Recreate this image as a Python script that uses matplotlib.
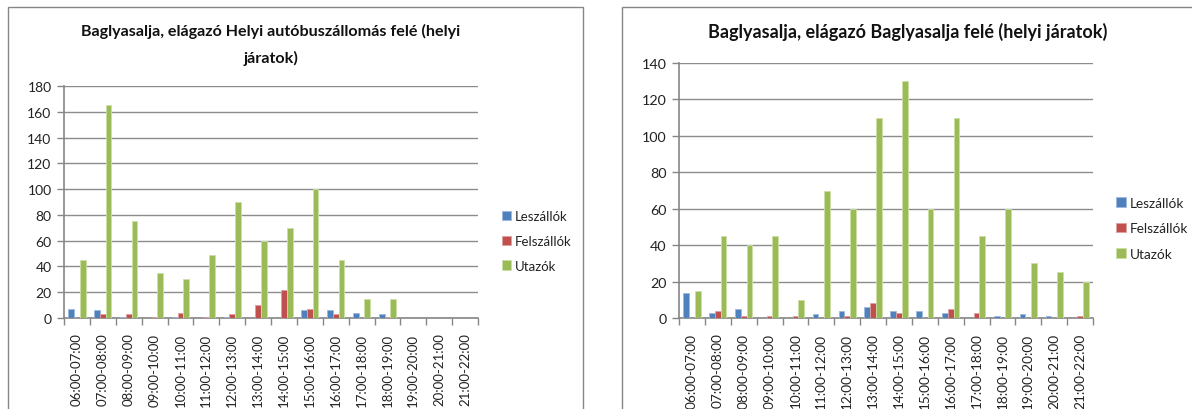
import matplotlib
matplotlib.use("Agg")
import matplotlib.pyplot as plt
import numpy as np
from matplotlib.patches import Rectangle

plt.rcParams['font.family'] = ['Lato', 'DejaVu Sans']

categories = ["06:00-07:00", "07:00-08:00", "08:00-09:00", "09:00-10:00",
              "10:00-11:00", "11:00-12:00", "12:00-13:00", "13:00-14:00",
              "14:00-15:00", "15:00-16:00", "16:00-17:00", "17:00-18:00",
              "18:00-19:00", "19:00-20:00", "20:00-21:00", "21:00-22:00"]
series_names = ["Leszállók", "Felszállók", "Utazók"]

title_left = "Baglyasalja, elágazó Helyi autóbuszállomás felé (helyi\njáratok)"
left_leszallok = [7, 6, 1, 0, 1, 0, 1, 0, 0, 6, 6, 4, 3, 0, 0, 0]
left_felszallok = [0, 3, 3, 1, 4, 1, 3, 10, 22, 7, 3, 0, 1, 0, 0, 0]
left_utazok = [45, 165, 75, 35, 30, 49, 90, 60, 70, 100, 45, 15, 15, 0, 0, 0]
left_yticks = [0, 20, 40, 60, 80, 100, 120, 140, 160, 180]

title_right = "Baglyasalja, elágazó Baglyasalja felé (helyi járatok)"
right_leszallok = [14, 3, 5, 0, 0, 2, 4, 6, 4, 4, 3, 0, 1, 2, 1, 0]
right_felszallok = [0, 4, 1, 1, 1, 0, 1, 8, 3, 0, 5, 3, 0, 0, 0, 1]
right_utazok = [15, 45, 40, 45, 10, 70, 60, 110, 130, 60, 110, 45, 60, 30, 25, 20]
right_yticks = [0, 20, 40, 60, 80, 100, 120, 140]

colors = ["#4F81BD", "#C0504D", "#9BBB59"]
edge_colors = ["#9DB9DD", "#E0A09E", "#CBE0A4"]

W, H = 1192, 410
fig = plt.figure(figsize=(W / 100, H / 100), dpi=100)
fig.patch.set_facecolor("white")

def px_axes(x0, y_top, x1, y_bot):
    return fig.add_axes([x0 / W, (H - y_bot) / H, (x1 - x0) / W, (y_bot - y_top) / H])

def draw_chart(ax, data, yticks, legend_xy, legend_gap, fs):
    x = np.arange(len(categories))
    bw = 1 / 4.5
    offs = [-bw, 0, bw]
    handles = []
    for vals, c, ec, off, name in zip(data, colors, edge_colors, offs, series_names):
        b = ax.bar(x + off, vals, width=bw, color=c, edgecolor=ec, linewidth=0.6,
                   label=name, zorder=3)
        handles.append(b)
    ax.set_xlim(-0.5, len(categories) - 0.5)
    ax.set_ylim(0, yticks[-1])
    ax.set_yticks(yticks)
    ax.set_xticks(x)
    ax.set_xticklabels(categories, rotation=90, fontsize=fs, color="#222222")
    ax.set_xticks(np.arange(len(categories) + 1) - 0.5, minor=True)
    ax.tick_params(axis="x", which="major", length=0, pad=10.5)
    ax.tick_params(axis="x", which="minor", length=5, color="#868686", width=1)
    ax.tick_params(axis="y", length=5, color="#868686", width=1, labelsize=fs + 0.5,
                   labelcolor="#222222", pad=4)
    ax.grid(axis="y", color="#8C8C8C", linewidth=1, zorder=0)
    ax.set_axisbelow(True)
    for s in ["top", "right"]:
        ax.spines[s].set_visible(False)
    for s in ["left", "bottom"]:
        ax.spines[s].set_color("#868686")
        ax.spines[s].set_linewidth(1.2)
    leg = fig.legend(handles=handles, loc="upper left",
                     bbox_to_anchor=(legend_xy[0] / W, 1 - legend_xy[1] / H),
                     frameon=False, fontsize=fs, handlelength=0.7, handleheight=0.7,
                     handletextpad=0.3, labelspacing=legend_gap, borderpad=0,
                     borderaxespad=0)
    for t in leg.get_texts():
        t.set_color("#222222")

# chart frames
fig.add_artist(Rectangle((8 / W, -0.05), (583 - 8) / W, 1.05 - 8 / H,
                         transform=fig.transFigure, fill=False, edgecolor="#868686",
                         linewidth=1))
fig.add_artist(Rectangle((622 / W, -0.05), (1250 - 622) / W, 1.05 - 8 / H,
                         transform=fig.transFigure, fill=False, edgecolor="#868686",
                         linewidth=1))

axL = px_axes(64, 87, 478, 319)
draw_chart(axL, [left_leszallok, left_felszallok, left_utazok], left_yticks,
           (502, 211), 0.97, 9.5)
fig.text(271 / W, 1 - 24 / H, title_left, ha="center", va="top", fontsize=11.6,
         fontweight="bold", linespacing=1.95, color="#111111")

axR = px_axes(679, 64, 1093, 319)
draw_chart(axR, [right_leszallok, right_felszallok, right_utazok], right_yticks,
           (1116, 198), 0.98, 9.8)
fig.text(908 / W, 1 - 23 / H, title_right, ha="center", va="top", fontsize=13,
         fontweight="bold", color="#111111")

fig.savefig("out.png", dpi=100)
